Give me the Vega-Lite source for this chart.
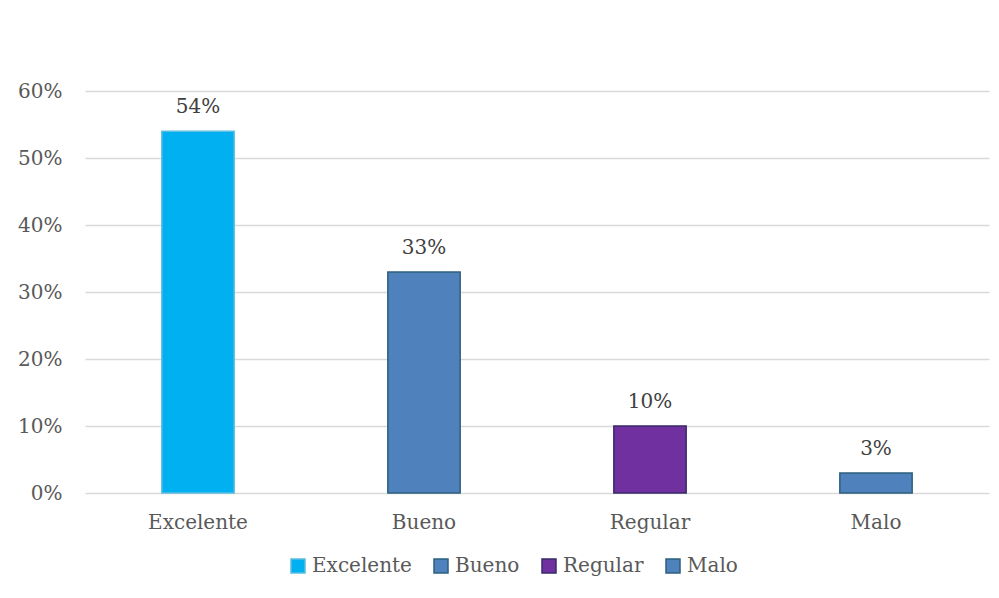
{
  "$schema": "https://vega.github.io/schema/vega-lite/v6.json",
  "width": 904,
  "height": 402,
  "autosize": "none",
  "padding": {"left": 85, "top": 91, "right": 10, "bottom": 105},
  "background": "white",
  "config": {
    "view": {"stroke": null},
    "font": "DejaVu Serif"
  },
  "data": {
    "values": [
      {"categoria": "Excelente", "valor": 0.54},
      {"categoria": "Bueno", "valor": 0.33},
      {"categoria": "Regular", "valor": 0.10},
      {"categoria": "Malo", "valor": 0.03}
    ]
  },
  "encoding": {
    "x": {
      "field": "categoria",
      "type": "nominal",
      "sort": null,
      "scale": {"paddingInner": 0.68, "paddingOuter": 0.34},
      "axis": {
        "title": null,
        "labelAngle": 0,
        "domain": false,
        "ticks": false,
        "labelPadding": 19,
        "labelFontSize": 20,
        "labelColor": "#595959",
        "labelFont": "DejaVu Serif"
      }
    },
    "y": {
      "field": "valor",
      "type": "quantitative",
      "scale": {"domain": [0, 0.6]},
      "axis": {
        "title": null,
        "values": [0, 0.1, 0.2, 0.3, 0.4, 0.5, 0.6],
        "format": ".0%",
        "domain": false,
        "ticks": false,
        "gridColor": "#d9d9d9",
        "gridWidth": 1.5,
        "labelPadding": 23,
        "labelFontSize": 20,
        "labelColor": "#595959",
        "labelFont": "DejaVu Serif"
      }
    }
  },
  "layer": [
    {
      "mark": {"type": "bar", "strokeWidth": 1.5},
      "encoding": {
        "fill": {
          "field": "categoria",
          "type": "nominal",
          "sort": null,
          "scale": {
            "domain": ["Excelente", "Bueno", "Regular", "Malo"],
            "range": ["#00b0f0", "#4f81bd", "#7030a0", "#4f81bd"]
          },
          "legend": {
            "title": null,
            "orient": "none",
            "legendX": 203,
            "legendY": 465,
            "direction": "horizontal",
            "symbolType": "square",
            "symbolSize": 196,
            "symbolStrokeWidth": 1.5,
            "labelFontSize": 20,
            "labelColor": "#595959",
            "labelFont": "DejaVu Serif",
            "columnPadding": 19,
            "labelOffset": 4
          }
        },
        "stroke": {
          "field": "categoria",
          "type": "nominal",
          "sort": null,
          "scale": {
            "domain": ["Excelente", "Bueno", "Regular", "Malo"],
            "range": ["#5bbde0", "#2b5f7c", "#3a2a6a", "#2b5f7c"]
          },
          "legend": {
            "title": null,
            "orient": "none",
            "legendX": 203,
            "legendY": 465,
            "direction": "horizontal",
            "symbolType": "square",
            "symbolSize": 196,
            "symbolStrokeWidth": 1.5,
            "labelFontSize": 20,
            "labelColor": "#595959",
            "labelFont": "DejaVu Serif",
            "columnPadding": 19,
            "labelOffset": 4
          }
        }
      }
    },
    {
      "mark": {
        "type": "text",
        "baseline": "alphabetic",
        "dy": -18,
        "fontSize": 20,
        "color": "#404040",
        "font": "DejaVu Serif"
      },
      "encoding": {
        "text": {"field": "valor", "type": "quantitative", "format": ".0%"}
      }
    }
  ]
}
